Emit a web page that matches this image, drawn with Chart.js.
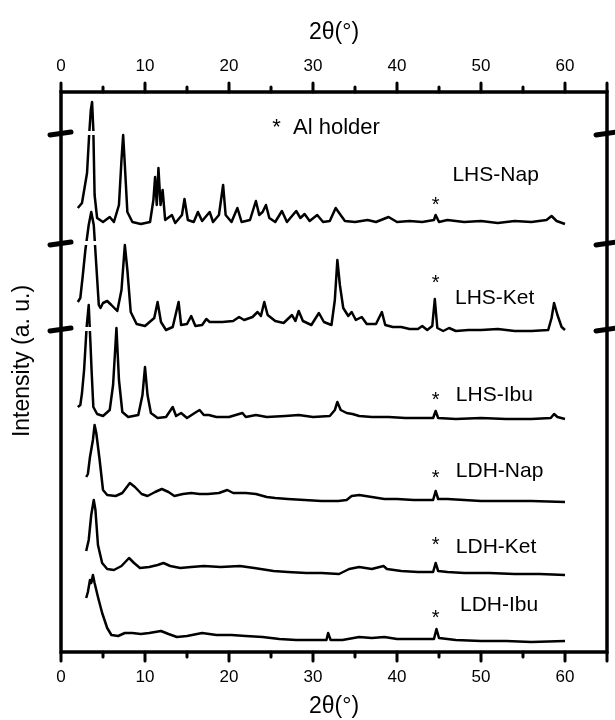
<!DOCTYPE html>
<html lang="en">
<head>
<meta charset="UTF-8">
<title>XRD patterns</title>
<script src="https://cdn.jsdelivr.net/npm/chart.js"></script>
<style>
    body { margin: 0; background: #fff; }
    #wrap { width: 615px; height: 720px; }
</style>
</head>
<body>
<div id="wrap"><canvas id="xrd" width="615" height="720"></canvas></div>
<script>
    // 2theta (deg), intensity above each trace's own baseline (a.u.)
    const lhsNap = [[2.0,22],[2.5,27],[3.1,57],[3.35,95],[3.55,120],[3.7,128],[3.85,100],[4.0,35],[4.3,12],[5.0,8],
        [5.8,13],[6.3,8],[6.9,25],[7.2,70],[7.4,95],[7.6,65],[7.9,18],[8.5,8],[9.5,6],[10.6,8],
        [11.0,30],[11.2,53],[11.4,25],[11.6,62],[11.85,25],[12.1,40],[12.4,10],[13.2,15],[13.6,7],[14.4,15],
        [14.7,31],[15.1,10],[15.8,8],[16.3,18],[16.8,9],[17.7,18],[18.1,8],[18.8,15],[19.3,45],[19.6,15],
        [20.3,8],[21.0,22],[21.5,8],[22.5,10],[23.2,29],[23.6,15],[24.0,18],[24.4,25],[24.8,12],[25.5,8],
        [26.3,19],[26.9,8],[28.0,19],[28.5,12],[29.0,16],[29.6,9],[30.5,15],[31.2,8],[32.0,9],[32.7,22],
        [33.2,16],[33.8,9],[35,8],[36.5,10],[37.5,8],[39.0,13],[40,8],[41.5,9],[43,8],[44.4,10],
        [44.6,15],[45.0,8],[46,10],[48,8],[50,9],[52,7],[54,9],[56,8],[57.8,10],[58.4,14],[59.0,9],[60,6]];
    const lhsKet = [[2.0,33],[2.3,37],[2.6,60],[2.9,85],[3.3,110],[3.6,123],[3.9,110],[4.2,70],[4.5,30],[4.7,27],
        [5.0,32],[5.5,34],[6.0,30],[6.7,24],[7.2,45],[7.6,90],[7.9,65],[8.3,23],[9.0,11],[10.0,9],
        [11.1,17],[11.5,33],[11.9,13],[12.5,5],[13.3,8],[14.0,33],[14.3,10],[15.0,11],[15.5,19],[16.0,9],
        [16.8,10],[17.3,16],[17.7,13],[18.3,13],[19.2,13],[20.5,14],[21.2,18],[21.8,15],[22.8,18],[23.4,23],
        [23.8,19],[24.2,33],[24.6,20],[25.5,14],[26.5,12],[27.5,20],[27.9,14],[28.3,24],[28.8,14],[29.8,10],
        [30.7,22],[31.3,13],[32.2,10],[32.6,35],[32.9,75],[33.2,50],[33.6,27],[34.2,19],[34.6,23],[35.1,15],
        [35.8,18],[36.4,11],[37.5,11],[38.2,23],[38.6,10],[39.5,8],[40.5,8],[41.5,6],[42.5,6],[43.0,9],
        [43.6,5],[44.2,9],[44.5,36],[44.8,7],[45.5,4],[46.2,7],[47.0,4],[48.5,5],[50.0,5],[52.0,6],
        [54.0,4],[56.0,4],[58.0,5],[58.4,17],[58.7,32],[59.1,20],[59.6,8],[60.0,5]];
    const lhsIbu = [[2.0,15],[2.3,17],[2.5,29],[2.75,52],[3.05,95],[3.3,117],[3.5,80],[3.65,50],[3.85,15],[4.3,8],
        [5.0,6],[5.8,12],[6.2,37],[6.6,94],[6.9,42],[7.3,10],[8.0,5],[9.2,7],[9.7,27],[10.0,55],
        [10.3,27],[10.7,9],[11.5,4],[12.5,5],[13.3,15],[13.7,6],[14.3,9],[15.0,4],[16.1,10],[16.5,12],
        [17.0,7],[17.6,7],[18.5,5],[20.0,5],[21.6,9],[22.0,5],[23.2,7],[24.5,5],[26.7,6],[28.3,7],
        [30,5],[32.0,6],[32.6,12],[32.9,20],[33.3,12],[34.0,9],[34.7,8],[35.5,6],[37,5],[39,5],
        [41,4],[43,4],[44.3,4],[44.6,11],[44.9,4],[47,3],[50,4],[53,3],[56,3],[58.3,4],
        [58.7,8],[59.1,5],[60,3]];
    const ldhNap = [[3.0,28],[3.2,31],[3.45,48],[3.8,65],[4.0,80],[4.2,72],[4.6,45],[5.0,15],[5.5,10],[6.5,9],
        [7.3,12],[8.2,22],[8.8,18],[9.6,11],[10.3,9],[11.2,13],[12.0,16],[12.8,13],[13.5,9],[14.5,11],
        [15.5,12],[16.5,11],[17.5,11],[18.8,12],[19.8,15],[20.5,12],[22.0,12],[23.2,11],[24.5,8],[25.5,7],
        [27,6],[29,5],[31,4],[33,4],[34.0,5],[34.6,9],[35.5,10],[37,8],[38.5,6],[40,6],
        [42,5],[44.3,5],[44.6,14],[44.9,6],[46,6],[48,5],[50,4],[53,4],[56,4],[60,3]];
    const ldhKet = [[3.0,26],[3.3,37],[3.6,62],[3.9,77],[4.1,67],[4.4,32],[4.9,14],[5.5,8],[6.3,7],[7.2,11],
        [8.1,19],[8.7,14],[9.4,9],[10.5,10],[11.5,12],[12.2,14],[13.0,11],[14.2,9],[15.5,10],[17,11],
        [19,10],[21.3,11],[23,9],[25.3,6],[27,5],[29.2,4],[31,4],[33.1,3],[34.3,8],[35.5,10],
        [37,8],[38.4,11],[38.8,8],[40.5,6],[42.5,5],[44.3,5],[44.6,14],[44.9,6],[46,5],[48,4],
        [51,4],[54,3],[57,3],[60,2]];
    const ldhIbu = [[3.0,47],[3.2,53],[3.45,65],[3.6,62],[3.8,70],[4.0,62],[4.4,48],[4.9,32],[5.5,17],[6.0,10],
        [6.8,9],[7.6,12],[8.5,12],[9.5,11],[10.5,12],[11.9,14],[12.8,11],[13.8,8],[15,9],[16.8,12],
        [18.5,10],[20.3,10],[22,9],[24,8],[26,6],[28,5],[30,5],[31.6,5],[31.8,12],[32.1,5],
        [33.5,5],[35.5,8],[37,7],[38.5,8],[40,6],[42,6],[44.4,6],[44.7,16],[45.0,7],[47,5],
        [50,4],[53,4],[56,3],[60,4]];

    const seriesNames = ['LHS-Nap', 'LHS-Ket', 'LHS-Ibu', 'LDH-Nap', 'LDH-Ket', 'LDH-Ibu'];
    const seriesData = [lhsNap, lhsKet, lhsIbu, ldhNap, ldhKet, ldhIbu];
    const seriesOffsets = [422, 317, 230, 147, 75, 7];

    const xTickLabels = [0, 10, 20, 30, 40, 50, 60];
    const xMajorTicks = [0, 10, 20, 30, 40, 50, 60, 65];
    const xMinorTicks = [5, 15, 25, 35, 45, 55];
    const axisBreaks = [519, 409, 323];     // y values of the axis breaks
    const alPeak = 44.6;                    // Al holder reflection

    // where the annotations sit (x in 2theta, y in axis units)
    const nameX = [46.6, 46.9, 47.0, 47.0, 47.0, 47.5];
    const nameY = [477, 354, 257, 181, 105, 47];
    const starY = [452, 374, 257, 179, 112, 39];

    const FONT = '"Liberation Sans", Arial, sans-serif';

    const overlay = {
        id: 'overlay',
        afterDatasetsDraw(chart) {
            const { ctx, chartArea: a, scales: { x, y } } = chart;
            ctx.save();

            // white gaps where the first peaks cross the breaks
            ctx.fillStyle = '#fff';
            axisBreaks.forEach(b => {
                const py = y.getPixelForValue(b);
                const x0 = x.getPixelForValue(2.5), x1 = x.getPixelForValue(4.8);
                ctx.fillRect(x0, py - 2, x1 - x0, 4);
            });

            // frame
            ctx.strokeStyle = '#000';
            ctx.lineWidth = 3.5;
            ctx.strokeRect(a.left, a.top, a.right - a.left, a.bottom - a.top);

            // tick marks, top and bottom
            ctx.lineWidth = 3;
            ctx.lineCap = 'round';
            const tick = (v, len) => {
                const px = x.getPixelForValue(v);
                ctx.beginPath();
                ctx.moveTo(px, a.top); ctx.lineTo(px, a.top - len);
                ctx.moveTo(px, a.bottom); ctx.lineTo(px, a.bottom + len);
                ctx.stroke();
            };
            xMajorTicks.forEach(v => tick(v, 9));
            xMinorTicks.forEach(v => tick(v, 5));

            // axis breaks
            ctx.lineWidth = 5;
            axisBreaks.forEach(b => {
                const py = y.getPixelForValue(b);
                [a.left, a.right].forEach(px => {
                    ctx.beginPath();
                    ctx.moveTo(px - 11, py + 2);
                    ctx.lineTo(px + 10, py - 1);
                    ctx.stroke();
                });
            });

            // y title
            ctx.fillStyle = '#000';
            ctx.font = '23px ' + FONT;
            ctx.textAlign = 'center';
            ctx.textBaseline = 'middle';
            ctx.save();
            ctx.translate(23, y.getPixelForValue(291));
            ctx.rotate(-Math.PI / 2);
            ctx.fillText('Intensity (a. u.)', 0, 0);
            ctx.restore();

            // "* Al holder"
            ctx.font = '22px ' + FONT;
            ctx.textAlign = 'left';
            ctx.fillText('*  Al holder', x.getPixelForValue(25.15), y.getPixelForValue(524));

            // sample names
            ctx.font = '21px ' + FONT;
            seriesNames.forEach((n, i) => {
                ctx.fillText(n, x.getPixelForValue(nameX[i]), y.getPixelForValue(nameY[i]));
            });

            // Al holder stars
            ctx.font = '20px ' + FONT;
            ctx.textAlign = 'center';
            ctx.textBaseline = 'alphabetic';
            starY.forEach(s => {
                ctx.fillText('*', x.getPixelForValue(alPeak), y.getPixelForValue(s) + 11);
            });
            ctx.restore();
        }
    };

    const xAxis = (position, height, titlePad) => ({
        type: 'linear',
        position: position,
        min: 0,
        max: 65,
        grid: { display: false, drawTicks: false },
        border: { display: false },
        afterBuildTicks: s => { s.ticks = xTickLabels.map(v => ({ value: v })); },
        afterFit: s => { s.height = height; },
        ticks: { padding: 15, color: '#000', font: { family: FONT, size: 17 } },
        title: { display: true, text: '2θ(°)', color: '#000', padding: titlePad, font: { family: FONT, size: 23 } }
    });

    new Chart(document.getElementById('xrd'), {
        type: 'line',
        data: {
            datasets: seriesData.map((d, i) => ({
                label: seriesNames[i],
                data: d.map(p => ({ x: p[0], y: p[1] + seriesOffsets[i] })),
                borderColor: '#000',
                borderWidth: 2.5,
                pointRadius: 0,
                tension: 0,
                borderJoinStyle: 'round'
            }))
        },
        options: {
            responsive: false,
            animation: false,
            layout: { padding: { left: 61, right: 8, top: 0, bottom: 0 } },
            plugins: { legend: { display: false }, tooltip: { enabled: false } },
            scales: {
                x: xAxis('bottom', 68, { top: 0, bottom: 0 }),
                x2: xAxis('top', 92, { top: 19, bottom: 0 }),
                y: { display: false, min: 0, max: 560 }
            }
        },
        plugins: [overlay]
    });
</script>
</body>
</html>
